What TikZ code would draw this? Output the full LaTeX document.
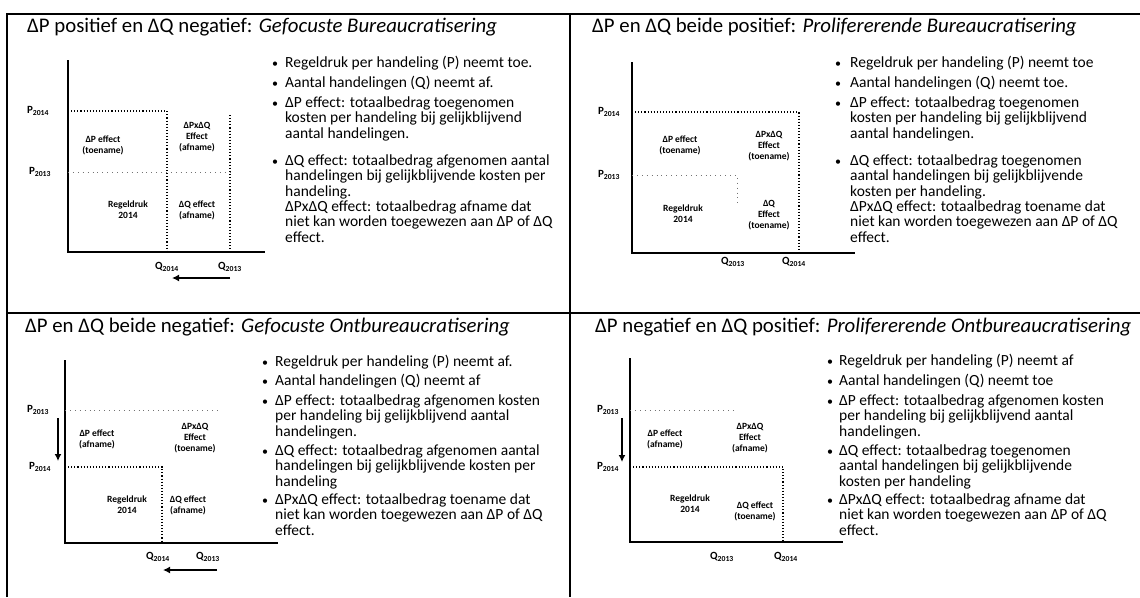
\documentclass[tikz,border=0pt]{standalone}
\usepackage{fontspec}
\setmainfont{Carlito}
\usetikzlibrary{arrows.meta}
\begin{document}
\begin{tikzpicture}[x=1pt,y=-1pt,
  frame/.style={line width=1.4pt},
  ttl/.style={anchor=base west, inner sep=0, font=\fontsize{20.8}{24}\selectfont},
  bl/.style={anchor=base west, inner sep=0, font=\fontsize{15.5}{17}\selectfont},
  bdot/.style={anchor=base, inner sep=0, font=\fontsize{12}{12}\selectfont},
  ct/.style={align=center, inner sep=0, font=\fontsize{9.5}{11}\selectfont\bfseries},
  pl/.style={inner sep=0, font=\fontsize{11}{12}\selectfont\bfseries},
  ax/.style={line width=1.3pt},
  dl/.style={dotted, line width=1.1pt},
  fl/.style={loosely dotted, line width=0.9pt, black!55},
  arr/.style={line width=1.8pt, -{Latex[length=7pt,width=7pt]}}
]
\useasboundingbox (0,0) rectangle (1140,597);
% frame
\draw[frame] (7,597) -- (7,14) -- (1140,14);
\draw[frame] (570,14) -- (570,597);
\draw[frame] (7,313) -- (1140,313);

% titles
\node[ttl] (t1) at (27,32) {ΔP positief en ΔQ negatief: \textit{Gefocuste Bureaucratisering}};
\node[ttl] (t2) at (592,32) {ΔP en ΔQ beide positief: \textit{Prolifererende Bureaucratisering}};
\node[ttl] (t3) at (25,332) {ΔP en ΔQ beide negatief: \textit{Gefocuste Ontbureaucratisering}};
\node[ttl] (t4) at (595,332) {ΔP negatief en ΔQ positief: \textit{Prolifererende Ontbureaucratisering}};

% ---------- Q1 bullets
\foreach \y/\t [count=\i] in {62/Regeldruk per handeling (P) neemt toe.,
 82/Aantal handelingen (Q) neemt af.,
 102/ΔP effect: totaalbedrag toegenomen,
 117.5/kosten per handeling bij gelijkblijvend,
 133/aantal handelingen.,
 160/ΔQ effect: totaalbedrag afgenomen aantal,
 175.5/handelingen bij gelijkblijvende kosten per,
 191/handeling.,
 206/ΔPxΔQ effect: totaalbedrag afname dat,
 221.5/niet kan worden toegewezen aan ΔP of ΔQ,
 237/effect.}
 {\node[bl] (q1l\i) at (285,\y+5) {\t};}
\foreach \y [count=\i] in {62,82,102,160}
 {\node[bdot] (q1d\i) at (275,\y+5) {•};}

% ---------- Q2 bullets
\foreach \y/\t [count=\i] in {62/Regeldruk per handeling (P) neemt toe,
 82/Aantal handelingen (Q) neemt toe.,
 102/ΔP effect: totaalbedrag toegenomen,
 117.5/kosten per handeling bij gelijkblijvend,
 133/aantal handelingen.,
 160/ΔQ effect: totaalbedrag toegenomen,
 175.5/aantal handelingen bij gelijkblijvende,
 191/kosten per handeling.,
 206/ΔPxΔQ effect: totaalbedrag toename dat,
 221.5/niet kan worden toegewezen aan ΔP of ΔQ,
 237/effect.}
 {\node[bl] (q2l\i) at (850,\y+5) {\t};}
\foreach \y [count=\i] in {62,82,102,160}
 {\node[bdot] (q2d\i) at (838,\y+5) {•};}

% ---------- Q3 bullets
\foreach \y/\t [count=\i] in {361/Regeldruk per handeling (P) neemt af.,
 380/Aantal handelingen (Q) neemt af,
 400/ΔP effect: totaalbedrag afgenomen kosten,
 415.5/per handeling bij gelijkblijvend aantal,
 431/handelingen.,
 450/ΔQ effect: totaalbedrag afgenomen aantal,
 465.5/handelingen bij gelijkblijvende kosten per,
 481/handeling,
 499/ΔPxΔQ effect: totaalbedrag toename dat,
 514.5/niet kan worden toegewezen aan ΔP of ΔQ,
 530/effect.}
 {\node[bl] (q3l\i) at (275,\y+5) {\t};}
\foreach \y [count=\i] in {361,380,400,450,499}
 {\node[bdot] (q3d\i) at (265,\y+5) {•};}

% ---------- Q4 bullets
\foreach \y/\t [count=\i] in {360/Regeldruk per handeling (P) neemt af,
 380/Aantal handelingen (Q) neemt toe,
 400/ΔP effect: totaalbedrag afgenomen kosten,
 415.5/per handeling bij gelijkblijvend aantal,
 431/handelingen.,
 450/ΔQ effect: totaalbedrag toegenomen,
 465.5/aantal handelingen bij gelijkblijvende,
 481/kosten per handeling,
 499/ΔPxΔQ effect: totaalbedrag afname dat,
 514.5/niet kan worden toegewezen aan ΔP of ΔQ,
 530/effect.}
 {\node[bl] (q4l\i) at (839,\y+5) {\t};}
\foreach \y [count=\i] in {360,380,400,450,499}
 {\node[bdot] (q4d\i) at (830,\y+5) {•};}

% ---------- Q1 chart
\draw[ax] (68,60) -- (68,252) -- (265,252);
\draw[dl] (68,111) -- (167,111) -- (167,252);
\draw[dl] (230,115) -- (230,252);
\draw[fl] (68,172) -- (230,172);
\node[pl] (q1p1) at (38,111) {P\textsubscript{2014}};
\node[pl] (q1p0) at (40,172) {P\textsubscript{2013}};
\node[pl] (q1qa) at (167,267) {Q\textsubscript{2014}};
\node[pl] (q1qb) at (230,267) {Q\textsubscript{2013}};
\coordinate (q1a0) at (230,278);
\coordinate (q1a1) at (172,278);
\draw[arr] (q1a0) -- (q1a1);
\node[ct] (q1c1) at (103,145) {ΔP effect\\(toename)};
\node[ct] (q1c2) at (197,137) {ΔPxΔQ\\Effect\\(afname)};
\node[ct] (q1c3) at (128,210) {Regeldruk\\2014};
\node[ct] (q1c4) at (197,210) {ΔQ effect\\(afname)};

% ---------- Q2 chart
\draw[ax] (632,62) -- (632,253) -- (855,253);
\draw[dl] (632,112) -- (799,112) -- (799,253);
\draw[fl] (632,175) -- (737,175) -- (737,207);
\node[pl] (q2p1) at (609,112) {P\textsubscript{2014}};
\node[pl] (q2p0) at (609,175) {P\textsubscript{2013}};
\node[pl] (q2qa) at (733,262) {Q\textsubscript{2013}};
\node[pl] (q2qb) at (794,262) {Q\textsubscript{2014}};
\node[ct] (q2c1) at (680,145) {ΔP effect\\(toename)};
\node[ct] (q2c2) at (769,146) {ΔPxΔQ\\Effect\\(toename)};
\node[ct] (q2c3) at (683,214) {Regeldruk\\2014};
\node[ct] (q2c4) at (769,215) {ΔQ\\Effect\\(toename)};

% ---------- Q3 chart
\draw[ax] (65,360) -- (65,543) -- (278,543);
\draw[dl] (65,467) -- (162,467) -- (162,543);
\draw[fl] (65,410) -- (217,410);
\node[pl] (q3p1) at (38,410) {P\textsubscript{2013}};
\node[pl] (q3p0) at (40,467) {P\textsubscript{2014}};
\node[pl] (q3qa) at (158,557) {Q\textsubscript{2014}};
\node[pl] (q3qb) at (208,557) {Q\textsubscript{2013}};
\coordinate (q3v0) at (58,418);
\coordinate (q3v1) at (58,461);
\draw[arr] (q3v0) -- (q3v1);
\coordinate (q3a0) at (217,570);
\coordinate (q3a1) at (163,570);
\draw[arr] (q3a0) -- (q3a1);
\node[ct] (q3c1) at (97,439) {ΔP effect\\(afname)};
\node[ct] (q3c2) at (195,438) {ΔPxΔQ\\Effect\\(toename)};
\node[ct] (q3c3) at (127,505) {Regeldruk\\2014};
\node[ct] (q3c4) at (188,505) {ΔQ effect\\(afname)};

% ---------- Q4 chart
\draw[ax] (630,358) -- (630,542) -- (843,542);
\draw[dl] (630,467) -- (783,467) -- (783,542);
\draw[fl] (630,410) -- (733,410);
\node[pl] (q4p1) at (608,410) {P\textsubscript{2013}};
\node[pl] (q4p0) at (608,467) {P\textsubscript{2014}};
\node[pl] (q4qa) at (722,557) {Q\textsubscript{2013}};
\node[pl] (q4qb) at (786,557) {Q\textsubscript{2014}};
\coordinate (q4v0) at (622,418);
\coordinate (q4v1) at (622,462);
\draw[arr] (q4v0) -- (q4v1);
\node[ct] (q4c1) at (665,439) {ΔP effect\\(afname)};
\node[ct] (q4c2) at (750,438) {ΔPxΔQ\\Effect\\(afname)};
\node[ct] (q4c3) at (690,504) {Regeldruk\\2014};
\node[ct] (q4c4) at (755,511) {ΔQ effect\\(toename)};
\end{tikzpicture}
\end{document}
